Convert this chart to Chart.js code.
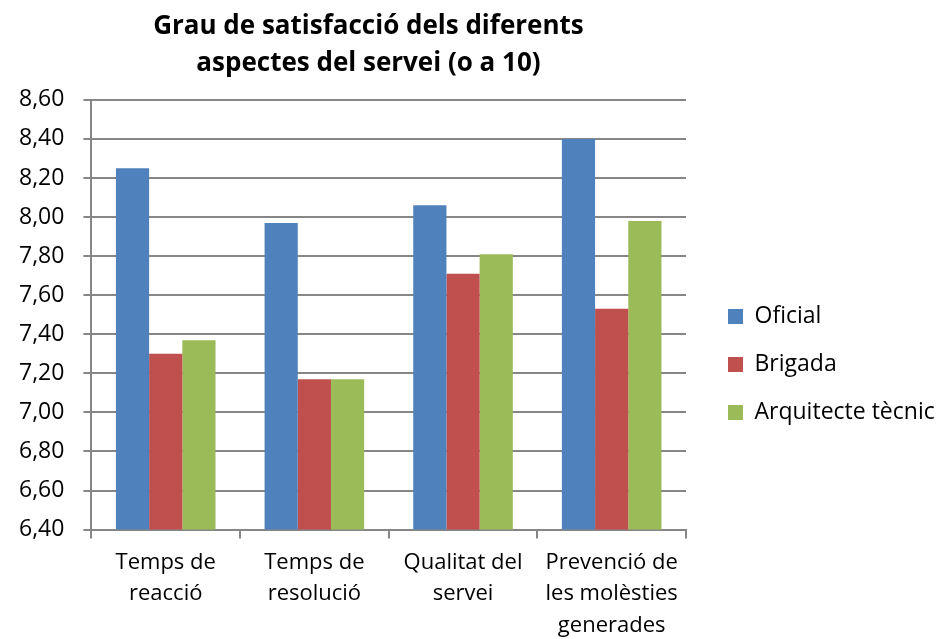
<!DOCTYPE html>
<html>
<head>
<meta charset="utf-8">
<script src="https://cdn.jsdelivr.net/npm/chart.js@4/dist/chart.umd.min.js"></script>
<style>
    html, body { margin: 0; padding: 0; background: #fff; }
    #wrap { width: 936px; height: 639px; }
</style>
</head>
<body>
<div id="wrap"><canvas id="barChart" width="936" height="639"></canvas></div>
<script>
const categories = [
    ['Temps de', 'reacció'],
    ['Temps de', 'resolució'],
    ['Qualitat del', 'servei'],
    ['Prevenció de', 'les molèsties', 'generades'],
];
const oficial = [8.25, 7.97, 8.06, 8.40];
const brigada = [7.30, 7.17, 7.71, 7.53];
const arquitecte = [7.37, 7.17, 7.81, 7.98];
const yTicks = [6.4, 6.6, 6.8, 7.0, 7.2, 7.4, 7.6, 7.8, 8.0, 8.2, 8.4, 8.6];

const gridColor = '#868686';
const fontFamily = '"Open Sans", Lato, sans-serif';

const ctx = document.getElementById('barChart').getContext('2d');

const barChartData = {
    labels: categories,
    datasets: [
        { label: 'Oficial', data: oficial, backgroundColor: '#4F81BD' },
        { label: 'Brigada', data: brigada, backgroundColor: '#C0504D' },
        { label: 'Arquitecte tècnic', data: arquitecte, backgroundColor: '#9BBB59' },
    ],
};

new Chart(ctx, {
    type: 'bar',
    data: barChartData,
    options: {
        responsive: false,
        animation: false,
        devicePixelRatio: 1,
        layout: { padding: { left: 0, right: 0, top: 8, bottom: -10 } },
        datasets: {
            bar: { categoryPercentage: 0.67, barPercentage: 1 },
        },
        plugins: {
            title: {
                display: true,
                fullSize: false,
                // trailing spaces pull the centred text a little to the left, as in the original
                text: ['Grau de satisfacció dels diferents      ', 'aspectes del servei (o a 10)      '],
                color: '#000',
                font: { family: fontFamily, size: 26, weight: 'bold', lineHeight: 1.42 },
                padding: { top: 0, bottom: 18 },
            },
            legend: {
                position: 'right',
                align: 'center',
                maxWidth: 250,
                title: { display: true, text: '', padding: { top: 40.6, bottom: 0 } },
                labels: {
                    color: '#000',
                    boxWidth: 15,
                    boxHeight: 15,
                    padding: 42,
                    // one-line arrays so the row height follows the small lineHeight
                    font: { family: fontFamily, size: 23, lineHeight: '6px' },
                    generateLabels: chart => Chart.defaults.plugins.legend.labels
                        .generateLabels(chart)
                        .map(item => ({ ...item, text: [item.text] })),
                },
            },
            tooltip: { enabled: false },
        },
        scales: {
            x: {
                grid: { drawOnChartArea: false, color: gridColor, lineWidth: 2, tickLength: 9 },
                border: { color: gridColor, width: 2 },
                ticks: {
                    color: '#000',
                    font: { family: fontFamily, size: 22, lineHeight: 1.43 },
                    maxRotation: 0,
                    padding: 8,
                },
            },
            y: {
                min: 6.4,
                max: 8.6,
                afterBuildTicks: axis => {
                    axis.ticks = yTicks.map(v => ({ value: v }));
                },
                grid: { color: gridColor, lineWidth: 2, tickLength: 8 },
                border: { color: gridColor, width: 2 },
                ticks: {
                    color: '#000',
                    font: { family: fontFamily, size: 23 },
                    padding: 19,
                    callback: v => v.toFixed(2).replace('.', ','),
                },
            },
        },
    },
});
</script>
</body>
</html>
